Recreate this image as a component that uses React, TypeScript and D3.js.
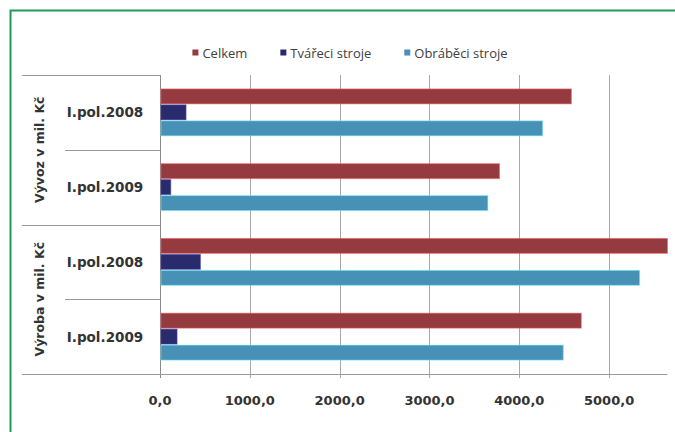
import React, { useEffect, useRef } from "react";
import * as d3 from "d3";

// Row groups and periods (top to bottom)
const groups = ["Vývoz v mil. Kč", "Výroba v mil. Kč"];
const periods = ["I.pol.2008", "I.pol.2009"];

// Series
const seriesNames = ["Celkem", "Tvářeci stroje", "Obráběci stroje"];
const seriesColors = ["#953a3e", "#2a2b6c", "#4790b6"];

// Values per group, indexed by period
const vyvozCelkem = [4580, 3780];
const vyvozTvareci = [290, 120];
const vyvozObrabeci = [4260, 3650];
const vyrobaCelkem = [5650, 4690];
const vyrobaTvareci = [450, 190];
const vyrobaObrabeci = [5340, 4490];

const xTicks = [0, 1000, 2000, 3000, 4000, 5000];
const xMax = 5650;

const W = 675;
const H = 432;

export default function App() {
  const ref = useRef<SVGSVGElement | null>(null);

  useEffect(() => {
    const svg = d3.select(ref.current);
    svg.selectAll("*").remove();

    const left = 160;
    const right = 667.5;
    const top = 75;
    const bottom = 374;
    const tableLeft = 22;
    const innerLeft = 65;

    const groupValues = [
      [vyvozCelkem, vyvozTvareci, vyvozObrabeci],
      [vyrobaCelkem, vyrobaTvareci, vyrobaObrabeci],
    ];

    const rows: { key: string; group: number; period: string; values: number[] }[] = [];
    groups.forEach((g, gi) => {
      periods.forEach((p, pi) => {
        rows.push({
          key: `${g}|${p}`,
          group: gi,
          period: p,
          values: groupValues[gi].map((s) => s[pi]),
        });
      });
    });

    const x = d3.scaleLinear().domain([0, xMax]).range([left, right]);
    const y = d3
      .scaleBand<string>()
      .domain(rows.map((r) => r.key))
      .range([top, bottom])
      .paddingInner(0)
      .paddingOuter(0);
    const yInner = d3
      .scaleBand<string>()
      .domain(seriesNames)
      .range([0, y.step()])
      .paddingInner(0)
      .paddingOuter(0.84);

    const textColor = "#333333";

    svg.append("rect").attr("width", W).attr("height", H).attr("fill", "#ffffff");

    // frame
    svg
      .append("path")
      .attr("d", `M10.5,${H} V10.5 H${W}`)
      .attr("fill", "none")
      .attr("stroke", "#1f9a5c")
      .attr("stroke-width", 2);

    // gridlines and ticks
    const grid = svg.append("g");
    xTicks.forEach((t) => {
      const px = Math.round(x(t)) + 0.5;
      grid
        .append("line")
        .attr("x1", px)
        .attr("x2", px)
        .attr("y1", top)
        .attr("y2", bottom + 4)
        .attr("stroke", t === 0 ? "#8a8a8a" : "#a8a8a8")
        .attr("stroke-width", 1);
    });

    // table lines on the left + bottom axis line
    const lineColor = "#9a9a9a";
    const boundaries = rows.map((r, i) => ({ y: y(r.key)!, outer: i % periods.length === 0 }));
    boundaries.forEach((b) => {
      const py = Math.round(b.y) + 0.5;
      grid
        .append("line")
        .attr("x1", b.outer ? tableLeft : innerLeft)
        .attr("x2", left)
        .attr("y1", py)
        .attr("y2", py)
        .attr("stroke", lineColor);
    });
    grid
      .append("line")
      .attr("x1", tableLeft)
      .attr("x2", right)
      .attr("y1", Math.round(bottom) + 0.5)
      .attr("y2", Math.round(bottom) + 0.5)
      .attr("stroke", lineColor);

    // bars
    const bars = svg.append("g");
    rows.forEach((r) => {
      r.values.forEach((v, si) => {
        const by = y(r.key)! + yInner(seriesNames[si])!;
        const bh = yInner.bandwidth();
        const c = d3.color(seriesColors[si])!;
        bars
          .append("rect")
          .attr("x", x(0) + 1)
          .attr("y", by + 0.5)
          .attr("width", Math.max(0, x(v) - x(0) - 1))
          .attr("height", bh - 1)
          .attr("fill", seriesColors[si])
          .attr("stroke", (c as any).brighter(1.4).formatHex())
          .attr("stroke-opacity", 0.55)
          .attr("stroke-width", 1);
      });
    });

    // period labels
    rows.forEach((r) => {
      svg
        .append("text")
        .attr("x", 105)
        .attr("y", y(r.key)! + y.step() / 2)
        .attr("text-anchor", "middle")
        .attr("dominant-baseline", "central")
        .attr("font-family", "DejaVu Sans, sans-serif")
        .attr("font-weight", "bold")
        .attr("font-size", 13.5)
        .attr("fill", textColor)
        .text(r.period);
    });

    // group labels (rotated)
    groups.forEach((g, gi) => {
      const gRows = rows.filter((r) => r.group === gi);
      const y0 = y(gRows[0].key)!;
      const y1 = y(gRows[gRows.length - 1].key)! + y.step();
      const cy = (y0 + y1) / 2;
      svg
        .append("text")
        .attr("transform", `translate(39,${cy}) rotate(-90)`)
        .attr("text-anchor", "middle")
        .attr("dominant-baseline", "central")
        .attr("font-family", "DejaVu Sans, sans-serif")
        .attr("font-weight", "bold")
        .attr("font-size", 12.5)
        .attr("fill", textColor)
        .text(g);
    });

    // x tick labels
    xTicks.forEach((t) => {
      svg
        .append("text")
        .attr("x", x(t))
        .attr("y", 405)
        .attr("text-anchor", "middle")
        .attr("font-family", "DejaVu Sans, sans-serif")
        .attr("font-weight", "bold")
        .attr("font-size", 13)
        .attr("fill", textColor)
        .text(d3.format(".1f")(t).replace(".", ","));
    });

    // legend
    const legend = svg.append("g");
    const items = seriesNames.map((name, i) => {
      const g = legend.append("g");
      g.append("rect")
        .attr("x", 0)
        .attr("y", -3)
        .attr("width", 6)
        .attr("height", 6)
        .attr("fill", seriesColors[i]);
      const t = g
        .append("text")
        .attr("x", 10)
        .attr("y", 0)
        .attr("dominant-baseline", "central")
        .attr("font-family", "Open Sans, sans-serif")
        .attr("font-size", 13)
        .attr("fill", "#404040")
        .text(name);
      const w = 10 + (t.node() as SVGTextElement).getComputedTextLength();
      return { g, w };
    });
    const gap = 33;
    const total = d3.sum(items, (d) => d.w) + gap * (items.length - 1);
    let cx = 350 - total / 2;
    items.forEach((it) => {
      it.g.attr("transform", `translate(${cx},52.5)`);
      cx += it.w + gap;
    });
  }, []);

  return (
    <div style={{ position: "absolute", left: 0, top: 0 }}>
      <svg ref={ref} width={W} height={H} style={{ display: "block" }} />
    </div>
  );
}
